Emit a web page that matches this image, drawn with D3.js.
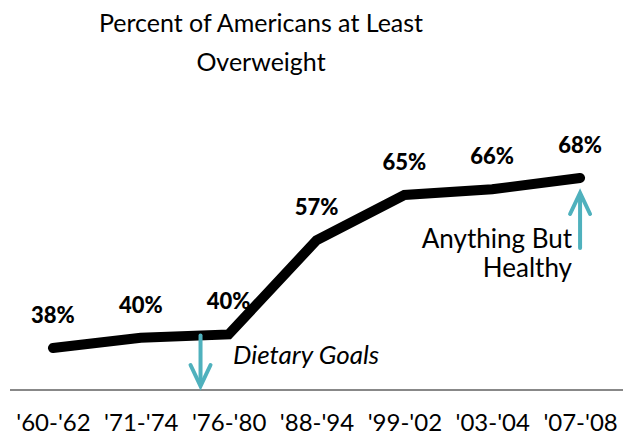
<!DOCTYPE html>
<html>
<head>
<meta charset="utf-8">
<script src="https://cdn.jsdelivr.net/npm/d3@7"></script>
<style>
  body { margin: 0; background: #fff; }
  text { font-family: Lato, "Open Sans", sans-serif; fill: #000; }
</style>
</head>
<body>
<div id="chart"></div>
<script>
// data
const periods = ["'60-'62", "'71-'74", "'76-'80", "'88-'94", "'99-'02", "'03-'04", "'07-'08"];
const overweight = [38, 39.8, 40.4, 57, 65, 66, 68];
const titleLines = ["Percent of Americans at Least", "Overweight"];

const width = 634, height = 436;
const teal = "#4fb1bd";

const svg = d3.select("#chart").append("svg")
  .attr("width", width)
  .attr("height", height);

// scales
const x = d3.scalePoint()
  .domain(periods)
  .range([9, 624])
  .padding(0.5);

const y = d3.scaleLinear()
  .domain([38, 68])
  .range([348, 178]);

// title
svg.selectAll(".title")
  .data(titleLines)
  .enter().append("text")
  .attr("class", "title")
  .attr("x", 261)
  .attr("y", (d, i) => 32 + i * 39)
  .attr("text-anchor", "middle")
  .attr("font-size", 25)
  .text(d => d);

// x axis
const axisY = 390;
const xAxis = d3.axisBottom(x).tickSize(0).tickPadding(24);
const gx = svg.append("g")
  .attr("transform", `translate(0,${axisY})`)
  .call(xAxis);
gx.select(".domain")
  .attr("d", "M10,0H623")
  .attr("stroke", "#888")
  .attr("stroke-width", 2);
gx.selectAll(".tick text")
  .attr("font-family", "Lato, sans-serif")
  .attr("font-size", 24)
  .attr("fill", "#000");

// line
const line = d3.line()
  .x((d, i) => x(periods[i]))
  .y(d => y(d));

svg.append("path")
  .datum(overweight)
  .attr("d", line)
  .attr("fill", "none")
  .attr("stroke", "#000")
  .attr("stroke-width", 10)
  .attr("stroke-linecap", "round");

// value labels
svg.selectAll(".val")
  .data(overweight)
  .enter().append("text")
  .attr("class", "val")
  .attr("x", (d, i) => x(periods[i]))
  .attr("y", d => y(d) - 25)
  .attr("text-anchor", "middle")
  .attr("font-size", 22)
  .attr("font-weight", "900")
  .text(d => Math.round(d) + "%");

// arrows
function arrow(xp, y0, y1) {
  const dir = y1 > y0 ? 1 : -1;
  const g = svg.append("g")
    .attr("stroke", teal)
    .attr("stroke-width", 4)
    .attr("fill", "none")
    .attr("stroke-linecap", "round");
  g.append("line")
    .attr("x1", xp).attr("x2", xp)
    .attr("y1", y0).attr("y2", y1 - dir * 2);
  g.append("path")
    .attr("d", `M${xp - 10},${y1 - dir * 21}L${xp},${y1}L${xp + 10},${y1 - dir * 21}`)
    .attr("stroke-linejoin", "miter");
}

// Dietary Goals (1977) sits between the '71-'74 and '76-'80 points
const step = x.step();
const xGoals = x("'76-'80") - step * 0.32;
const yGoals = y(overweight[1]) + (y(overweight[2]) - y(overweight[1])) * 0.68;
arrow(xGoals, yGoals, axisY - 4);

svg.append("text")
  .attr("x", 233)
  .attr("y", 364)
  .attr("font-size", 26)
  .attr("font-style", "italic")
  .text("Dietary Goals");

const xLast = x("'07-'08");
arrow(xLast, 248, y(overweight[6]) + 15);

svg.selectAll(".abh")
  .data(["Anything But", "Healthy"])
  .enter().append("text")
  .attr("class", "abh")
  .attr("x", 572)
  .attr("y", (d, i) => 248 + i * 29)
  .attr("text-anchor", "end")
  .attr("font-size", 26)
  .text(d => d);
</script>
</body>
</html>
